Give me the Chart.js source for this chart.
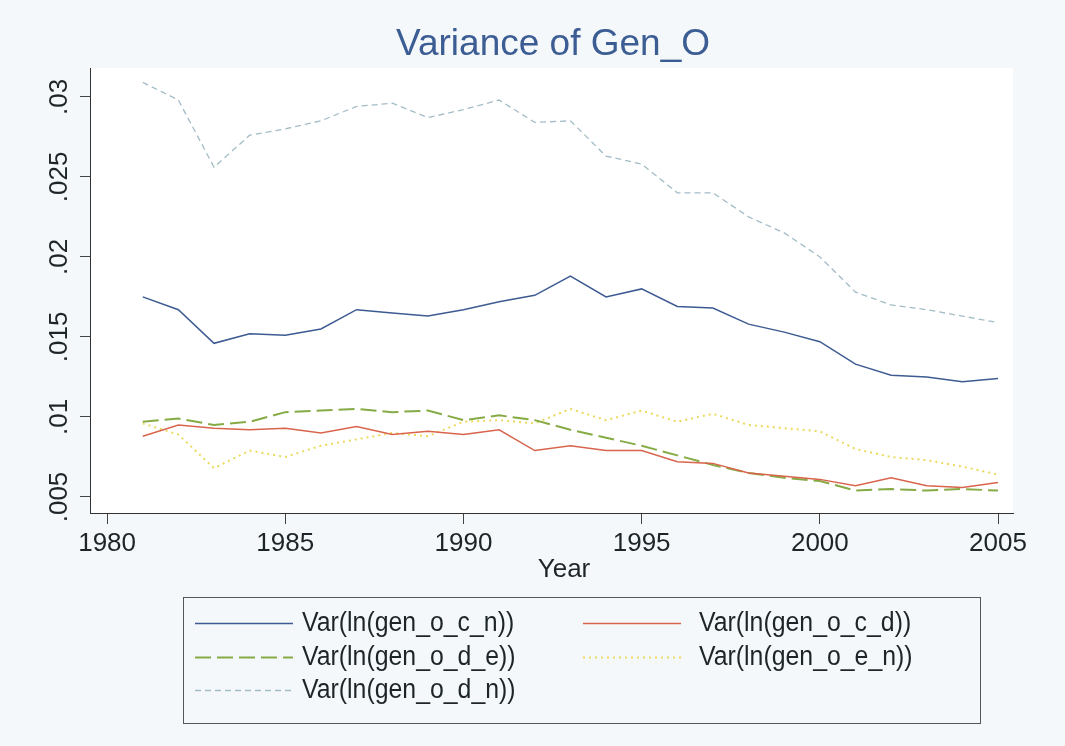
<!DOCTYPE html>
<html>
<head>
<meta charset="utf-8">
<script src="https://cdn.jsdelivr.net/npm/chart.js@4.4.1/dist/chart.umd.min.js"></script>
<style>
  html, body { margin: 0; padding: 0; background: #f4f8fa; }
  #wrap { width: 1065px; height: 746px; position: relative; }
</style>
</head>
<body>
<div id="wrap"><canvas id="c" width="1065" height="746"></canvas></div>
<script>
const chartTitle = 'Variance of Gen_O';
const xAxisTitle = 'Year';
const years = [1981, 1982, 1983, 1984, 1985, 1986, 1987, 1988, 1989, 1990, 1991, 1992, 1993,
               1994, 1995, 1996, 1997, 1998, 1999, 2000, 2001, 2002, 2003, 2004, 2005];
const xTicks = [1980, 1985, 1990, 1995, 2000, 2005];
const yTicks = [0.005, 0.01, 0.015, 0.02, 0.025, 0.03];

const seriesNames = ['Var(ln(gen_o_c_n))', 'Var(ln(gen_o_c_d))', 'Var(ln(gen_o_d_e))',
                     'Var(ln(gen_o_e_n))', 'Var(ln(gen_o_d_n))'];
const varCN = [0.0175, 0.0167, 0.0146, 0.0152, 0.0151, 0.0155, 0.0167, 0.0165, 0.0163, 0.0167, 0.0172, 0.0176, 0.0188,
               0.0175, 0.0180, 0.0169, 0.0168, 0.0158, 0.0153, 0.0147, 0.0133, 0.0126, 0.0125, 0.0122, 0.0124];
const varCD = [0.0088, 0.0095, 0.0093, 0.0092, 0.0093, 0.0090, 0.0094, 0.0089, 0.0091, 0.0089, 0.0092, 0.0079, 0.0082,
               0.0079, 0.0079, 0.0072, 0.0071, 0.0065, 0.0063, 0.0061, 0.0057, 0.0062, 0.0057, 0.0056, 0.0059];
const varDE = [0.0097, 0.0099, 0.0095, 0.0097, 0.0103, 0.0104, 0.0105, 0.0103, 0.0104, 0.0098, 0.0101, 0.0098, 0.0092,
               0.0087, 0.0082, 0.0076, 0.0070, 0.0065, 0.0062, 0.0060, 0.0054, 0.0055, 0.0054, 0.0055, 0.0054];
const varEN = [0.0096, 0.0089, 0.0068, 0.0079, 0.0075, 0.0082, 0.0086, 0.0090, 0.0088, 0.0097, 0.0098, 0.0096, 0.0105,
               0.0098, 0.0104, 0.0097, 0.0102, 0.0095, 0.0093, 0.0091, 0.0080, 0.0075, 0.0073, 0.0069, 0.0064];
const varDN = [0.0309, 0.0298, 0.0256, 0.0276, 0.0280, 0.0285, 0.0294, 0.0296, 0.0287, 0.0292, 0.0298, 0.0284, 0.0285,
               0.0263, 0.0258, 0.0240, 0.0240, 0.0225, 0.0215, 0.0200, 0.0178, 0.0170, 0.0167, 0.0163, 0.0159];

const FONT = "'Liberation Sans', Arial, Helvetica, sans-serif";
const styles = [
  { color: '#3d5b92', width: 1.5, dash: [] },
  { color: '#d9644c', width: 1.5, dash: [] },
  { color: '#86ab45', width: 2, dash: [16, 6] },
  { color: '#ead95a', width: 2, dash: [2, 4] },
  { color: '#a3bcc6', width: 1.3, dash: [6, 4] }
];
const allSeries = [varCN, varCD, varDE, varEN, varDN];

const datasets = allSeries.map((vals, i) => ({
  label: seriesNames[i],
  data: years.map((yr, j) => ({ x: yr, y: vals[j] })),
  borderColor: styles[i].color,
  borderWidth: styles[i].width,
  borderDash: styles[i].dash,
  pointRadius: 0,
  tension: 0,
  fill: false
}));

const decorPlugin = {
  id: 'decor',
  beforeDraw(chart) {
    const { ctx, chartArea: a } = chart;
    ctx.save();
    ctx.fillStyle = '#ffffff';
    ctx.fillRect(a.left, a.top, a.right - a.left, a.bottom - a.top);
    ctx.restore();
  },
  afterDraw(chart) {
    const ctx = chart.ctx;
    ctx.save();
    // title
    ctx.fillStyle = '#3b5d94';
    ctx.font = '37px ' + FONT;
    ctx.textAlign = 'center';
    ctx.textBaseline = 'middle';
    ctx.fillText(chartTitle, 553, 45);
    // x axis title
    ctx.fillStyle = '#1e2528';
    ctx.font = '26px ' + FONT;
    ctx.fillText(xAxisTitle, 564, 570);
    // legend box
    ctx.strokeStyle = '#555';
    ctx.lineWidth = 1;
    ctx.strokeRect(183.5, 597.5, 797, 126);
    const pos = [
      { x: 195, y: 623, tx: 302 }, { x: 583, y: 623, tx: 699 },
      { x: 195, y: 657, tx: 302 }, { x: 583, y: 657, tx: 699 },
      { x: 195, y: 690, tx: 302 }
    ];
    ctx.textAlign = 'left';
    ctx.textBaseline = 'middle';
    pos.forEach((p, i) => {
      const st = styles[i];
      ctx.beginPath();
      ctx.setLineDash(st.dash);
      ctx.strokeStyle = st.color;
      ctx.lineWidth = st.width;
      ctx.moveTo(p.x, p.y + 0.5);
      ctx.lineTo(p.x + 98, p.y + 0.5);
      ctx.stroke();
      ctx.setLineDash([]);
      ctx.save();
      ctx.translate(p.tx, p.y + 1);
      ctx.scale(0.92, 1);
      ctx.font = '27px ' + FONT;
      ctx.fillStyle = '#1e2528';
      ctx.fillText(seriesNames[i], 0, 0);
      ctx.restore();
    });
    ctx.restore();
  }
};

new Chart(document.getElementById('c'), {
  type: 'line',
  data: { datasets },
  plugins: [decorPlugin],
  options: {
    responsive: false,
    animation: false,
    layout: { padding: { top: 68, left: 0, right: 52, bottom: 158 } },
    plugins: {
      legend: { display: false },
      title: { display: false },
      tooltip: { enabled: false }
    },
    scales: {
      x: {
        type: 'linear',
        min: 1979.52,
        max: 2005.42,
        afterBuildTicks: (s) => { s.ticks = xTicks.map(v => ({ value: v })); },
        afterFit: (s) => { s.height = 75; },
        grid: { drawOnChartArea: false, drawTicks: true, tickLength: 11, color: '#444', lineWidth: 1 },
        border: { display: true, color: '#333', width: 1 },
        ticks: {
          font: { family: FONT, size: 26 },
          color: '#1e2528',
          padding: 4,
          maxRotation: 0,
          autoSkip: false,
          callback: (v) => String(v)
        },
        title: { display: false }
      },
      y: {
        type: 'linear',
        min: 0.004,
        max: 0.0318,
        afterBuildTicks: (s) => { s.ticks = yTicks.map(v => ({ value: v })); },
        afterFit: (s) => { s.width = 90; },
        grid: { drawOnChartArea: false, drawTicks: true, tickLength: 10, color: '#444', lineWidth: 1 },
        border: { display: true, color: '#333', width: 1 },
        ticks: {
          font: { family: FONT, size: 26 },
          color: '#1e2528',
          minRotation: 90,
          maxRotation: 90,
          crossAlign: 'center',
          padding: -5,
          autoSkip: false,
          callback: (v) => String(parseFloat(Number(v).toFixed(4))).replace(/^0\./, '.')
        }
      }
    }
  }
});
</script>
</body>
</html>
